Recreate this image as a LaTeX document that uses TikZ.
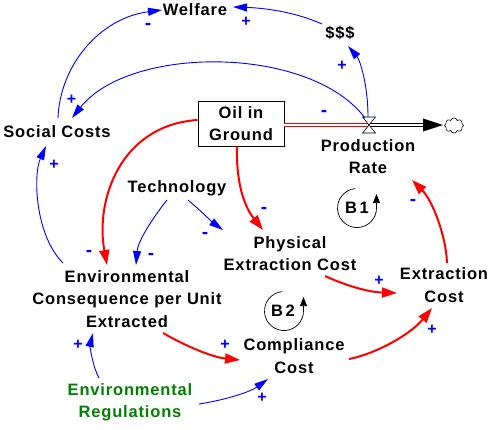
\documentclass[tikz,border=0pt]{standalone}
\usepackage{fontspec}
\setmainfont{Liberation Sans}[LetterSpace=5]
\usetikzlibrary{arrows.meta,calc,shapes.symbols}
\definecolor{dkgreen}{RGB}{0,128,0}
\begin{document}
\begin{tikzpicture}[x=1pt,y=-1pt,
  lab/.style={font=\bfseries\fontsize{16.5}{22.5}\selectfont, align=center, inner sep=0pt},
  pol/.style={font=\bfseries\fontsize{16}{16}\selectfont, text=blue, inner sep=0pt},
  neg/.style={font=\bfseries\fontsize{19}{19}\selectfont, text=blue, inner sep=0pt},
  blink/.style={draw=blue, line width=0.9pt, -{Triangle[length=14pt,width=8pt]}},
  rlink/.style={draw=red, line width=2pt, -{Triangle[length=15pt,width=10pt]}},
  loopmark/.style={draw=black, line width=0.7pt, -{Triangle[length=9pt,width=7pt]}},
  redpipe/.style={draw=red, double=white, line width=0.9pt, double distance=2.4pt},
  blackpipe/.style={draw=black, double=white, line width=1.2pt, double distance=2.2pt},
]
\useasboundingbox (0,0) rectangle (495,429);

% nodes
\node[lab] (W) at (195,10) {Welfare};
\node[lab] (D) at (340,33) {\$\$\$};
\node[lab] (SC) at (57,132) {Social Costs};
\node[lab, draw, line width=0.8pt, fill=white, minimum width=86pt, minimum height=45pt] (OIG) at (241,123.5) {Oil in\\Ground};
\node[lab] (PR) at (368,156.5) {Production\\Rate};
\node[lab] (T) at (177,188) {Technology};
\node[lab] (PEC) at (290,253.5) {Physical\\Extraction Cost};
\node[lab] (EC) at (444,285) {Extraction\\Cost};
\node[lab] (ECU) at (127,299) {Environmental\\Consequence per Unit\\Extracted};
\node[lab] (CC) at (294,356) {Compliance\\Cost};
\node[lab, text=dkgreen] (ER) at (130,402.5) {Environmental\\Regulations};
\coordinate (V) at (369,125);
\node[cloud, cloud puffs=8, draw, line width=0.6pt, minimum width=19pt, minimum height=15pt, inner sep=0pt] (CL) at (454,125.5) {};

% flow pipe
\draw[redpipe] (OIG.east |- V) -- (V);
\draw[blackpipe] (V) -- ([xshift=-31pt]CL.center |- V);
\fill ([xshift=-31pt]CL.center |- V) -- ++(0,-6.5) -- ++(20,6.5) -- ++(-20,6.5) -- cycle;
\draw[fill=white, line width=0.6pt] ([shift={(-6.5,-8)}]V) -- ++(13,0) -- ++(-13,16) -- ++(13,0) -- cycle;

% loops
\node[lab] (B1) at (357,208) {B\,1};
\draw[loopmark] ([shift={(-1.7,-19.4)}]B1.center) arc (-95:-360:19.5) -- ++(0,-14);
\node[lab] (B2) at (283,311) {B\,2};
\draw[loopmark] ([shift={(-0.7,-19.4)}]B2.center) arc (-95:-360:19.5) -- ++(0,-14);

% connectors
\draw[blink] ([shift={(1,-14)}]SC.center) .. controls +(2,-53) and +(-62,8) .. ([shift={(-33,0)}]W.center);
\draw[blink] ([shift={(-18,-9)}]D.center) .. controls +(-27,-12) and +(32,1) .. ([shift={(38,-3)}]W.center);
\draw[blink] ([shift={(-1,-8)}]V) .. controls +(0,-32) and +(12,14) .. ([shift={(8,13)}]D.center);
\draw[blink] ([shift={(-4,-7)}]V) .. controls +(-55,-73) and +(58,-73) .. ([shift={(15,-14)}]SC.center);
\draw[blink] ([shift={(-64,-36)}]ECU.center) .. controls +(-28,-28) and +(-13,29) .. ([shift={(-11,14)}]SC.center);
\draw[rlink] ([shift={(0,-3.5)}]OIG.west) .. controls +(-77,5) and +(-12,-65) .. ([shift={(-20,-34)}]ECU.center);
\draw[rlink] ([shift={(-4,0)}]OIG.south) .. controls +(-1,33) and +(-20,-25) .. ([shift={(-27,-23.5)}]PEC.center);
\draw[blink] ([shift={(-10,12)}]T.center) .. controls +(-12,15) and +(2,-25) .. ([shift={(9,-34)}]ECU.center);
\draw[blink] ([shift={(11,12)}]T.center) .. controls +(12,10) and +(-11,-8) .. ([shift={(-67,-23.5)}]PEC.center);
\draw[rlink] ([shift={(35,22.5)}]PEC.center) .. controls +(15,7) and +(-32,-1) .. ([shift={(-47,8)}]EC.center);
\draw[rlink] ([shift={(3,-22)}]EC.center) .. controls +(-1,-28) and +(20,20) .. ([shift={(44,23.5)}]PR.center);
\draw[rlink] ([shift={(36,34)}]ECU.center) .. controls +(17,10) and +(-30,-3) .. ([shift={(-54,4)}]CC.center);
\draw[rlink] ([shift={(55,3)}]CC.center) .. controls +(26,-5) and +(-22,27) .. ([shift={(-12,23)}]EC.center);
\draw[blink] ([shift={(-31,-24.5)}]ER.center) .. controls +(-7,-13) and +(-3,12) .. ([shift={(-34,34)}]ECU.center);
\draw[blink] ([shift={(69,1.5)}]ER.center) .. controls +(26,-4) and +(-18,13) .. ([shift={(-26,23)}]CC.center);

% polarities
\node[neg] (p1) at (148,26) {-};
\node[pol] (p2) at (246,22) {+};
\node[pol] (p3) at (342,65.5) {+};
\node[neg] (p4) at (324,113) {-};
\node[pol] (p5) at (71.5,100) {+};
\node[pol] (p6) at (54,164.5) {+};
\node[neg] (p7) at (89,253) {-};
\node[neg] (p8) at (151,256) {-};
\node[neg] (p9) at (264,210) {-};
\node[neg] (p10) at (205,235) {-};
\node[pol] (p11) at (379,280.5) {+};
\node[neg] (p12) at (413,202) {-};
\node[pol] (p13) at (225,345) {+};
\node[pol] (p14) at (432,330) {+};
\node[pol] (p15) at (78,345) {+};
\node[pol] (p16) at (262,398) {+};
\end{tikzpicture}
\end{document}
